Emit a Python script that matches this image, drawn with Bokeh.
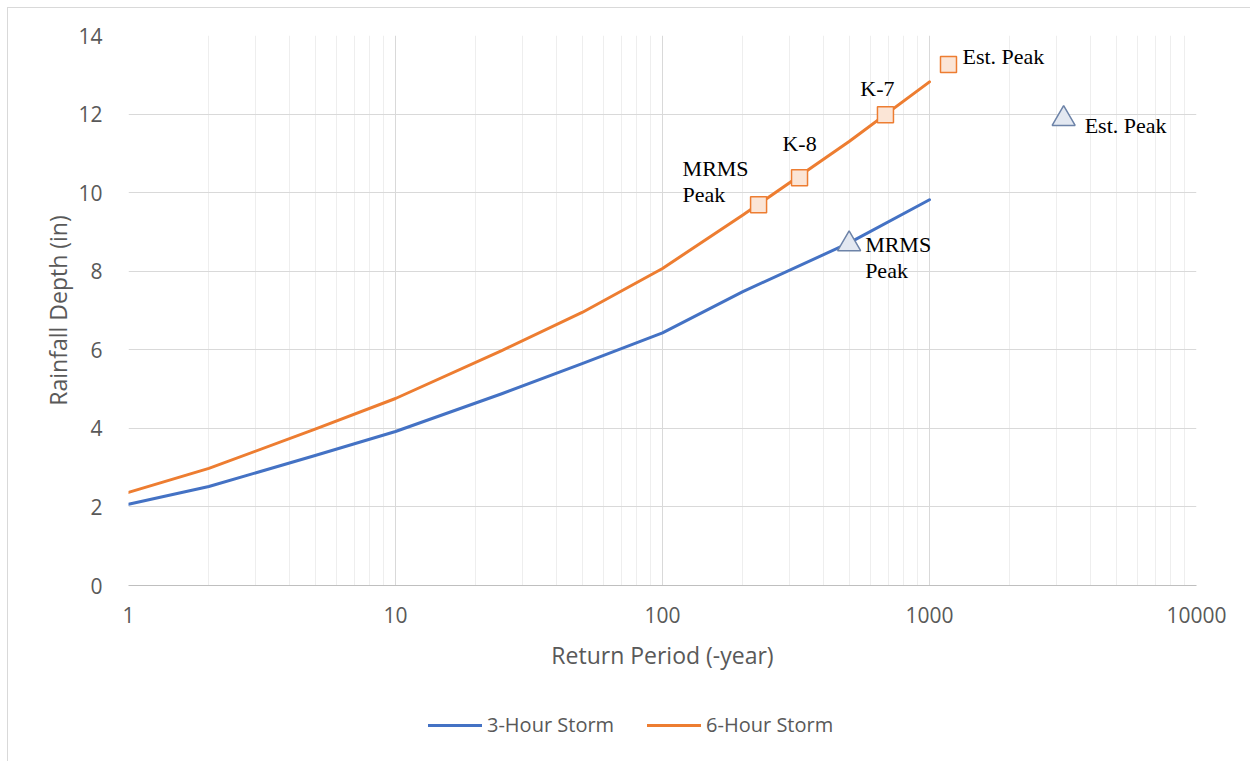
from bokeh.plotting import figure
from bokeh.layouts import column
from bokeh.models import (FixedTicker, Legend, LegendItem)
from bokeh.core.properties import value
from bokeh.embed import file_html
from bokeh.resources import INLINE

# ---------------- data ----------------
return_periods = [1, 2, 5, 10, 25, 50, 100, 200, 500, 1000]
depth_3hr = [2.07, 2.52, 3.31, 3.92, 4.88, 5.65, 6.43, 7.48, 8.72, 9.82]
depth_6hr = [2.37, 2.98, 3.98, 4.76, 5.98, 6.95, 8.07, 9.43, 11.3, 12.82]

obs_6hr_labels = ["MRMS\nPeak", "K-8", "K-7", "Est. Peak"]
obs_6hr_rp = [229, 326, 684, 1178]
obs_6hr_depth = [9.69, 10.38, 11.98, 13.26]

obs_3hr_labels = ["MRMS\nPeak", "Est. Peak"]
obs_3hr_rp = [500, 3180]
obs_3hr_depth = [8.69, 11.88]

series_names = ["3-Hour Storm", "6-Hour Storm"]
x_ticks = [1, 10, 100, 1000, 10000]
x_tick_labels = ["1", "10", "100", "1000", "10000"]
y_ticks = [0, 2, 4, 6, 8, 10, 12, 14]

# ---------------- styles ----------------
BLUE = "#4472C4"
ORANGE = "#ED7D31"
GRAY_TXT = "#595959"
SANS = "Open Sans"
SERIF = "Liberation Serif"
EDGE = "#d9d9d9"

p = figure(frame_width=1068, frame_height=550, x_axis_type="log",
           x_range=(1, 10000), y_range=(0, 14),
           output_backend="svg", toolbar_location=None,
           min_border_left=128, min_border_right=54,
           min_border_top=35, min_border_bottom=115)
p.border_fill_color = None
p.styles = {"background": f"linear-gradient({EDGE},{EDGE}) 7px 7px / 100% 1px no-repeat, "
                          f"linear-gradient({EDGE},{EDGE}) 7px 7px / 1px 100% no-repeat, white"}
p.outline_line_color = None
p.background_fill_color = "white"

minor = [m * d for d in x_ticks[:-1] for m in range(2, 10)]
p.xaxis.ticker = FixedTicker(ticks=x_ticks, minor_ticks=minor)
p.xaxis.major_label_overrides = {t: l for t, l in zip(x_ticks, x_tick_labels)}
p.yaxis.ticker = FixedTicker(ticks=y_ticks)

for ax in (p.xaxis[0], p.yaxis[0]):
    ax.major_label_text_font = SANS
    ax.major_label_text_font_size = "21px"
    ax.major_label_text_color = GRAY_TXT
    ax.axis_label_text_font = SANS
    ax.axis_label_text_font_size = "23px"
    ax.axis_label_text_color = GRAY_TXT
    ax.axis_label_text_font_style = "normal"
    ax.major_tick_line_color = None
    ax.minor_tick_line_color = None

p.xaxis.axis_label = "Return Period (-year)"
p.yaxis.axis_label = "Rainfall Depth (in)"
p.xaxis.axis_line_color = "#bfbfbf"
p.yaxis.axis_line_color = None
p.xaxis.major_label_standoff = 15
p.xaxis.axis_label_standoff = 13
p.yaxis.major_label_standoff = 20
p.yaxis.axis_label_standoff = 1

p.xgrid.grid_line_color = "#d9d9d9"
p.xgrid.minor_grid_line_color = "#eeeeee"
p.ygrid.grid_line_color = "#d9d9d9"

p.line(return_periods, depth_3hr, line_color=BLUE, line_width=3,
       line_join="round", line_cap="round")
p.line(return_periods, depth_6hr, line_color=ORANGE, line_width=3,
       line_join="round", line_cap="round")

p.scatter(obs_6hr_rp, obs_6hr_depth, marker="square", size=16,
          fill_color="#FBE5D6", line_color=ORANGE, line_width=1.5)
p.scatter(obs_3hr_rp, obs_3hr_depth, marker="triangle", size=23,
          fill_color="#E3E8F1", line_color="#6D83A8", line_width=1.5)

# label placement styles (screen offsets)
lab6 = [(-76, -49, "left", "top"), (0, -22, "center", "bottom"),
        (-8, -14, "center", "bottom"), (14, -8, "left", "alphabetic")]
lab3 = [(16, -12, "left", "top"), (21, 7, "left", "alphabetic")]

for i, (dx, dy, al, bl) in enumerate(lab6):
    p.text([obs_6hr_rp[i]], [obs_6hr_depth[i]], text=[obs_6hr_labels[i]],
           x_offset=dx, y_offset=dy, text_align=al, text_baseline=bl,
           text_font=value(SERIF), text_font_size="22px", text_color="black",
           text_line_height=1.05)
for i, (dx, dy, al, bl) in enumerate(lab3):
    p.text([obs_3hr_rp[i]], [obs_3hr_depth[i]], text=[obs_3hr_labels[i]],
           x_offset=dx, y_offset=dy, text_align=al, text_baseline=bl,
           text_font=value(SERIF), text_font_size="22px", text_color="black",
           text_line_height=1.05)

# ---------------- legend strip ----------------
leg = figure(width=1250, height=61, x_range=(-2, -1), y_range=(-2, -1),
             output_backend="svg", toolbar_location=None,
             x_axis_location=None, y_axis_location=None,
             min_border=0)
leg.grid.visible = False
leg.outline_line_color = None
leg.border_fill_color = None
leg.background_fill_color = None
leg.styles = {"background": f"linear-gradient({EDGE},{EDGE}) 7px 0 / 1px 100% no-repeat, white"}
# same series, kept outside this strip's view: only their legend glyphs show
k3 = leg.line(return_periods, depth_3hr, line_color=BLUE, line_width=3, line_cap="round")
k6 = leg.line(return_periods, depth_6hr, line_color=ORANGE, line_width=3, line_cap="round")

legend = Legend(items=[LegendItem(label=series_names[0], renderers=[k3]),
                       LegendItem(label=series_names[1], renderers=[k6])],
                orientation="horizontal", location=(300, 23),
                label_text_font=SANS, label_text_font_size="20px",
                label_text_color=GRAY_TXT, glyph_width=54, label_standoff=5,
                spacing=33, border_line_color=None, padding=10, margin=0,
                background_fill_alpha=0)
leg.add_layout(legend)

layout = column(p, leg, spacing=0)
open("out.html", "w").write(file_html(layout, INLINE))
